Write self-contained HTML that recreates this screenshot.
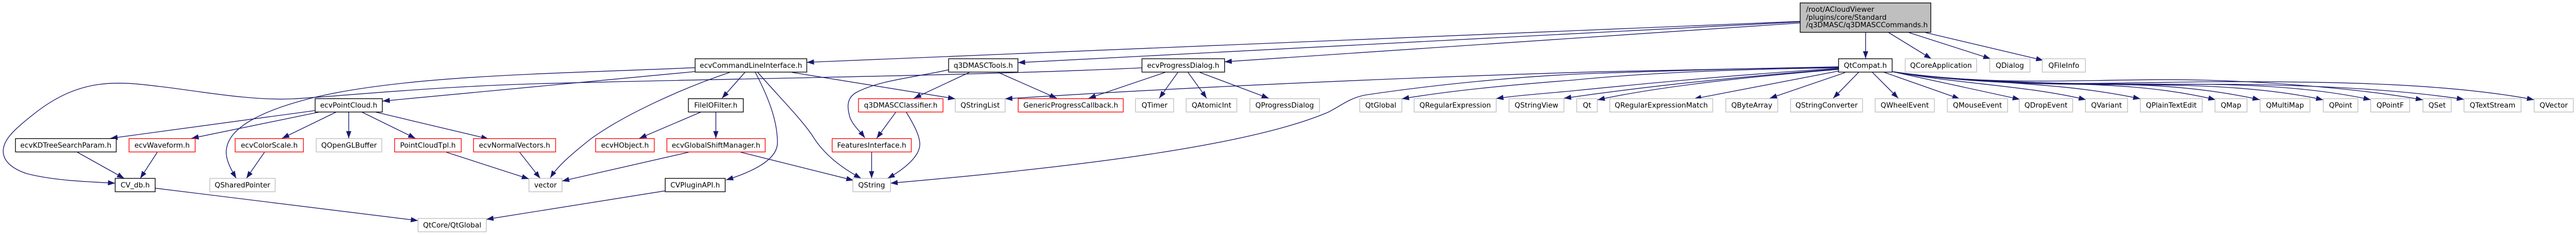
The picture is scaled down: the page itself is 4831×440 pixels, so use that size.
<!DOCTYPE html>
<html><head><meta charset="utf-8"><title>q3DMASCCommands.h</title>
<style>
html,body{margin:0;padding:0;background:#fff;width:4831px;height:440px;overflow:hidden}
svg{display:block}
text{font-family:"DejaVu Sans",sans-serif;font-size:13.33px;fill:#000;text-anchor:middle}
rect{stroke-width:1.33}
.b rect{fill:#fff;stroke:#000}
.g rect{fill:#fff;stroke:#bfbfbf}
.r rect{fill:#fff;stroke:#f00}
.e path{fill:none;stroke:#191970;stroke-width:1.33;marker-end:url(#a)}
</style></head><body>
<svg xmlns="http://www.w3.org/2000/svg" width="4831" height="440" viewBox="0 0 4831 440">
<defs><marker id="a" markerUnits="userSpaceOnUse" markerWidth="16" markerHeight="12" refX="14" refY="5.5" orient="auto"><path d="M0.5,0.6 L14,5.5 L0.5,10.4 Z" fill="#191970"/></marker></defs>
<g class="e">
<path d="M3376,40 L1513,116.7"/>
<path d="M3376,41 L1909,117.3"/>
<path d="M3376,43 L2296.5,115.7"/>
<path d="M3498.7,61 L3498.7,109.5"/>
<path d="M3542,61 L3622,110"/>
<path d="M3580,61 L3733,110"/>
<path d="M3611,61 L3832,113"/>
<path d="M1303.6,134 L717.5,189.3"/>
<path d="M1303.6,126.7 C1050,138 760,140 583,184 C500,205 432,235 425,277 C421,295 432,315 443,334"/>
<path d="M2141.6,127 C1800,143 1300,148 1000,157 C800,163 640,180 550,185 C470,189 370,170 300,162 C220,152 150,145 64,213 C30,240 6,260 6,283 C6,300 20,315 50,325 C100,338 160,340 216,343"/>
<path d="M1397,135.5 L1354,184"/>
<path d="M1368.6,135.5 C1280,165 1170,215 1108,260 C1070,290 1045,312 1032,333"/>
<path d="M1416.5,135.5 C1440,180 1458,225 1458,267 C1458,300 1410,322 1361.6,337"/>
<path d="M1421,135.5 C1460,180 1500,220 1523,253 C1545,290 1580,315 1615,334"/>
<path d="M1485,135.5 L1791.5,185"/>
<path d="M1818,135.5 L1714,184"/>
<path d="M1872,135.5 L1982,184"/>
<path d="M1779,130.7 C1715,145 1650,150 1606,173 C1585,185 1590,205 1594,220 C1600,235 1612,245 1622,258"/>
<path d="M1680,210 L1644,259"/>
<path d="M1699.6,210 C1715,235 1725,255 1725,270 C1725,295 1690,320 1664.5,334"/>
<path d="M1634.6,285 L1634.6,334"/>
<path d="M1314,210 L1199,259"/>
<path d="M1342.5,210 L1342.5,259"/>
<path d="M1291.5,285 L1054,339"/>
<path d="M1389,285 L1600.7,337.7"/>
<path d="M1247.5,357.3 L912,410.7"/>
<path d="M291,352.3 L784,413"/>
<path d="M591,207 L207,259"/>
<path d="M597.6,210 L359,259"/>
<path d="M630,210 L529,259"/>
<path d="M654,210 L654,259"/>
<path d="M679,210 L779,259"/>
<path d="M705,210 L916,260"/>
<path d="M145,285 L233,334"/>
<path d="M295,285 L263,334"/>
<path d="M496,285 L462,334"/>
<path d="M837,285 L992,335"/>
<path d="M974.5,285 L1013,334"/>
<path d="M2185,135.5 L2041.5,184"/>
<path d="M2209,135.5 L2174,184"/>
<path d="M2228,135.5 L2263,184"/>
<path d="M2250,135.5 L2379.5,184"/>
<path d="M3448,125 C3300,127 3150,130 3000,134.3 C2600,146 2200,165 1885,185"/>
<path d="M3448,126 C3250,128 3100,134 3000,137 C2850,142 2680,160 2560,178 C2530,184 2515,198 2491,210 C2350,270 2050,310 1670,343"/>
<path d="M3448,127 C3200,130 3050,140 2950,150 C2820,160 2720,170 2629,185"/>
<path d="M3448,128 C3250,140 3050,160 2950,170 C2900,175 2850,178 2806,184.5"/>
<path d="M3448,129 C3250,145 3100,160 2933,184"/>
<path d="M3448,130 C3300,142 3120,160 2996,187"/>
<path d="M3448,133 L3177,185"/>
<path d="M3460,136 L3319,184"/>
<path d="M3486,135 L3438,184"/>
<path d="M3511,135 L3560,184"/>
<path d="M3532.5,135 L3675,185"/>
<path d="M3548,134 L3788,186"/>
<path d="M3548,134 C3680,158 3800,160 3912,186.7"/>
<path d="M3548,134 C3700,158 3850,150 4014,185"/>
<path d="M3548,134 C3700,157 3880,153 4000,163 C4060,168 4110,176 4155,186.7"/>
<path d="M3548,134 C3700,160 3900,155 4030,160 C4110,164 4180,174 4238,186.7"/>
<path d="M3548,134 C3720,160 3950,157 4100,160 C4200,163 4290,172 4357,187"/>
<path d="M3548,134 C3750,165 3950,157 4150,158 C4270,160 4370,170 4446,186.7"/>
<path d="M3548,134 C3750,165 3950,145 4133,150 C4250,153 4420,165 4544,187"/>
<path d="M3548,134 C3720,160 3950,157 4200,158 C4350,160 4500,168 4621,186"/>
<path d="M3548,134 C3750,165 3950,155 4150,153 C4400,152 4600,158 4752.5,186.7"/>
</g>
<rect x="3376" y="5.5" width="245" height="55" style="fill:#bfbfbf;stroke:#000"/>
<text x="3387" y="22" style="text-anchor:start">/root/ACloudViewer</text>
<text x="3387" y="37" style="text-anchor:start">/plugins/core/Standard</text>
<text x="3387" y="51" style="text-anchor:start">/q3DMASC/q3DMASCCommands.h</text>
<g class="b">
<rect x="1303.6" y="110" width="209.4" height="25"/><text x="1408.3" y="127">ecvCommandLineInterface.h</text>
<rect x="1779" y="110" width="130" height="25"/><text x="1844" y="127">q3DMASCTools.h</text>
<rect x="2141.6" y="110" width="155" height="25"/><text x="2219" y="127">ecvProgressDialog.h</text>
<rect x="3448" y="110" width="100.5" height="25"/><text x="3498.2" y="127">QtCompat.h</text>
<rect x="591" y="184.7" width="126" height="25"/><text x="654" y="201.7">ecvPointCloud.h</text>
<rect x="1291" y="184.7" width="103" height="25"/><text x="1342.5" y="201.7">FileIOFilter.h</text>
<rect x="29" y="259.5" width="189" height="25"/><text x="123.5" y="276.5">ecvKDTreeSearchParam.h</text>
<rect x="216" y="334" width="75" height="25"/><text x="253.5" y="351">CV_db.h</text>
<rect x="1247.5" y="334" width="112.5" height="25"/><text x="1303.7" y="351">CVPluginAPI.h</text>
</g>
<g class="r">
<rect x="1610" y="184.7" width="158.5" height="25"/><text x="1689.2" y="201.7">q3DMASCClassifier.h</text>
<rect x="1909.5" y="184.7" width="197" height="25"/><text x="2008" y="201.7">GenericProgressCallback.h</text>
<rect x="242" y="259.5" width="124" height="25"/><text x="304" y="276.5">ecvWaveform.h</text>
<rect x="441" y="259.5" width="128" height="25"/><text x="505" y="276.5">ecvColorScale.h</text>
<rect x="740" y="259.5" width="125" height="25"/><text x="802.5" y="276.5">PointCloudTpl.h</text>
<rect x="888" y="259.5" width="154" height="25"/><text x="965" y="276.5">ecvNormalVectors.h</text>
<rect x="1117" y="259.5" width="110" height="25"/><text x="1172" y="276.5">ecvHObject.h</text>
<rect x="1250.6" y="259.5" width="184.4" height="25"/><text x="1342.8" y="276.5">ecvGlobalShiftManager.h</text>
<rect x="1560.6" y="259.5" width="148.4" height="25"/><text x="1634.8" y="276.5">FeaturesInterface.h</text>
</g>
<g class="g">
<rect x="3573" y="110" width="134" height="25"/><text x="3640" y="127">QCoreApplication</text>
<rect x="3731.5" y="110" width="75.5" height="25"/><text x="3769.2" y="127">QDialog</text>
<rect x="3830" y="110" width="81" height="25"/><text x="3870.5" y="127">QFileInfo</text>
<rect x="1791.5" y="184.7" width="93.5" height="25"/><text x="1838.2" y="201.7">QStringList</text>
<rect x="2129.5" y="184.7" width="71.5" height="25"/><text x="2165.2" y="201.7">QTimer</text>
<rect x="2224.5" y="184.7" width="95" height="25"/><text x="2272" y="201.7">QAtomicInt</text>
<rect x="2344" y="184.7" width="130.5" height="25"/><text x="2409.2" y="201.7">QProgressDialog</text>
<rect x="2550" y="184.7" width="79" height="25"/><text x="2589.5" y="201.7">QtGlobal</text>
<rect x="2652" y="184.7" width="154" height="25"/><text x="2729" y="201.7">QRegularExpression</text>
<rect x="2830" y="184.7" width="103" height="25"/><text x="2881.5" y="201.7">QStringView</text>
<rect x="2957" y="184.7" width="38.5" height="25"/><text x="2976.2" y="201.7">Qt</text>
<rect x="3019" y="184.7" width="193" height="25"/><text x="3115.5" y="201.7">QRegularExpressionMatch</text>
<rect x="3236.6" y="184.7" width="97.4" height="25"/><text x="3285.3" y="201.7">QByteArray</text>
<rect x="3358" y="184.7" width="135" height="25"/><text x="3425.5" y="201.7">QStringConverter</text>
<rect x="3516.6" y="184.7" width="111" height="25"/><text x="3572.1" y="201.7">QWheelEvent</text>
<rect x="3652" y="184.7" width="113" height="25"/><text x="3708.5" y="201.7">QMouseEvent</text>
<rect x="3787" y="184.7" width="100" height="25"/><text x="3837" y="201.7">QDropEvent</text>
<rect x="3911" y="184.7" width="79" height="25"/><text x="3950.5" y="201.7">QVariant</text>
<rect x="4014" y="184.7" width="116" height="25"/><text x="4072" y="201.7">QPlainTextEdit</text>
<rect x="4154" y="184.7" width="60" height="25"/><text x="4184" y="201.7">QMap</text>
<rect x="4238.5" y="184.7" width="93.5" height="25"/><text x="4285.2" y="201.7">QMultiMap</text>
<rect x="4357" y="184.7" width="65" height="25"/><text x="4389.5" y="201.7">QPoint</text>
<rect x="4446" y="184.7" width="73" height="25"/><text x="4482.5" y="201.7">QPointF</text>
<rect x="4544" y="184.7" width="53" height="25"/><text x="4570.5" y="201.7">QSet</text>
<rect x="4621" y="184.7" width="107" height="25"/><text x="4674.5" y="201.7">QTextStream</text>
<rect x="4752.5" y="184.7" width="73.5" height="25"/><text x="4789.2" y="201.7">QVector</text>
<rect x="593" y="259.5" width="123" height="25"/><text x="654.5" y="276.5">QOpenGLBuffer</text>
<rect x="393.5" y="334" width="122.5" height="25"/><text x="454.7" y="351">QSharedPointer</text>
<rect x="992" y="334" width="62" height="25"/><text x="1023" y="351">vector</text>
<rect x="1599.5" y="334" width="70.5" height="25"/><text x="1634.7" y="351">QString</text>
<rect x="784" y="409" width="128" height="25"/><text x="848" y="426">QtCore/QtGlobal</text>
</g>
</svg>
</body></html>
